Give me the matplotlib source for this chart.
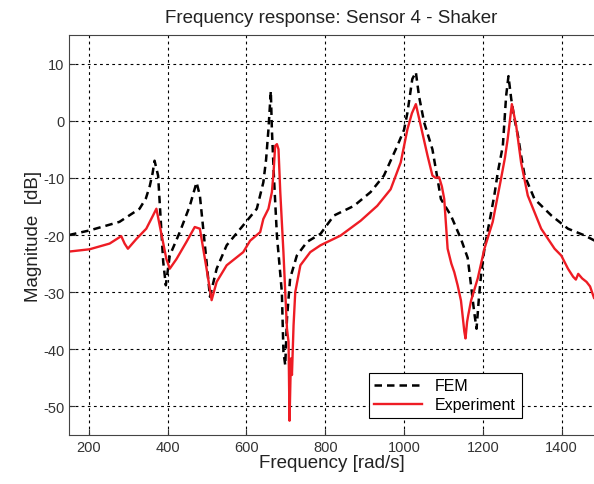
import numpy as np
import matplotlib.pyplot as plt

plt.rcParams['font.family'] = ['Liberation Sans', 'DejaVu Sans']
plt.rcParams['axes.unicode_minus'] = False

# FEM curve
fem_w = [150, 202, 278, 329, 345, 355, 362, 367, 376, 389, 395.6, 405.6, 431, 456.5, 466,
         473.6, 482, 499, 507.5, 524.6, 550, 592, 626.5, 643, 650, 656, 662, 664.7, 670,
         677.5, 690, 694, 698.6, 703, 711, 728, 754, 788, 822, 873, 915, 949, 983, 1000,
         1008.6, 1021, 1030, 1038, 1051, 1072, 1085, 1093.5, 1119, 1144.5, 1161.5, 1170,
         1178, 1184, 1190, 1195.5, 1204, 1229, 1238, 1250.7, 1259, 1265, 1272, 1280, 1289,
         1298, 1306, 1331, 1374, 1416, 1459, 1484]
fem_db = [-20.0, -19.2, -17.7, -15.4, -13.6, -11.4, -9.2, -7.0, -9.6, -24.7, -28.8, -23.6,
          -19.5, -14.9, -12.6, -10.8, -13.1, -24.7, -30.8, -25.9, -21.8, -18.3, -15.4,
          -10.8, -6.8, -1.5, 5.2, -1.5, -10.0, -20.1, -30.0, -40.4, -42.8, -34.6, -27.6,
          -23.6, -21.2, -19.8, -16.6, -14.9, -12.5, -9.6, -4.4, -1.6, 1.4, 7.3, 8.5, 4.3,
          -0.3, -5.0, -10.2, -13.7, -16.6, -20.7, -24.0, -28.8, -33.5, -36.4, -31.0,
          -27.0, -22.4, -13.1, -9.0, -4.4, 4.3, 7.8, 3.8, 0.4, -2.6, -6.5, -9.6, -13.7,
          -16.6, -18.9, -20.1, -21.0]

# Experiment curve
exp_w = [150, 202, 253, 282.5, 291, 299.4, 320.8, 346, 363, 371.7, 380, 397, 405.6, 422.7,
         448, 469, 482, 499, 511.8, 524.6, 550, 592, 609.5, 635, 643, 656, 664.7, 669, 673,
         677.5, 681.5, 686, 694, 698.6, 703, 707, 709.5, 713, 715.6, 719.7, 724, 737, 762,
         788, 839, 890, 932, 966, 991.6, 1008.6, 1020, 1030, 1042.5, 1059.6, 1072, 1080,
         1089, 1096, 1102, 1110.6, 1120, 1127.5, 1136, 1144.5, 1153, 1156, 1160, 1163,
         1170, 1187, 1204, 1225, 1246, 1256, 1263, 1273.6, 1284.6, 1297, 1314, 1348, 1382,
         1399, 1416, 1429, 1436, 1442, 1452, 1463, 1472, 1482]
exp_db = [-22.9, -22.5, -21.5, -20.2, -21.5, -22.4, -20.7, -18.9, -16.6, -15.4, -18.3, -24.2,
          -25.9, -24.2, -21.2, -18.6, -18.9, -25.9, -31.4, -28.2, -25.3, -23.0, -21.0,
          -19.5, -17.2, -15.4, -12.5, -9.0, -4.4, -4.1, -5.0, -12.5, -23.0, -30.0, -36.4,
          -38.7, -52.5, -41.6, -44.5, -35.8, -30.0, -25.3, -23.0, -21.8, -20.1, -17.5,
          -14.9, -12.0, -7.3, -1.5, 1.3, 2.9, -0.9, -6.1, -9.6, -10.0, -9.9, -11.5,
          -13.7, -22.4, -25.0, -26.5, -28.8, -31.5, -36.9, -38.1, -35.2, -34.0, -31.5,
          -27.6, -22.4, -17.7, -10.2, -6.5, -3.2, 2.9, -0.9, -7.3, -13.1, -18.9, -22.4,
          -23.6, -25.9, -27.3, -27.8, -26.8, -27.6, -28.2, -29.0, -31.0]

fig = plt.figure(figsize=(5.94, 4.85), dpi=100)
ax = fig.add_axes([0.1162, 0.101, 0.8838, 0.8248])

ax.plot(fem_w, fem_db, '--', color='black', linewidth=1.8, dashes=(3, 2), label='FEM')
ax.plot(exp_w, exp_db, '-', color='#ee1c24', linewidth=1.7, label='Experiment')

ax.set_xlim(150, 1482)
ax.set_ylim(-55, 15)
ax.set_xticks(np.arange(200, 1401, 200))
ax.set_yticks(np.arange(-50, 11, 10))
ax.grid(True, color='black', linestyle=(0, (2.5, 3)), linewidth=0.8)
ax.tick_params(direction='in', labelsize=10.5, length=4, colors='#333333')
ax.spines['right'].set_visible(False)
for s in ['left', 'bottom', 'top']:
    ax.spines[s].set_color('#444444')

ax.set_title('Frequency response: Sensor 4 - Shaker', fontsize=13.5, color='#222222', pad=9)
ax.set_xlabel('Frequency [rad/s]', fontsize=13.5, color='#222222', labelpad=0)
ax.set_ylabel('Magnitude  [dB]', fontsize=13.5, color='#222222', labelpad=1)

leg = ax.legend(loc='lower left', bbox_to_anchor=(0.571, 0.0425), borderaxespad=0,
                fancybox=False, framealpha=1, edgecolor='black', fontsize=11.5,
                handlelength=3.0, borderpad=0.35, labelspacing=0.25)
leg.get_frame().set_linewidth(0.8)

fig.savefig('out.png', dpi=100)
